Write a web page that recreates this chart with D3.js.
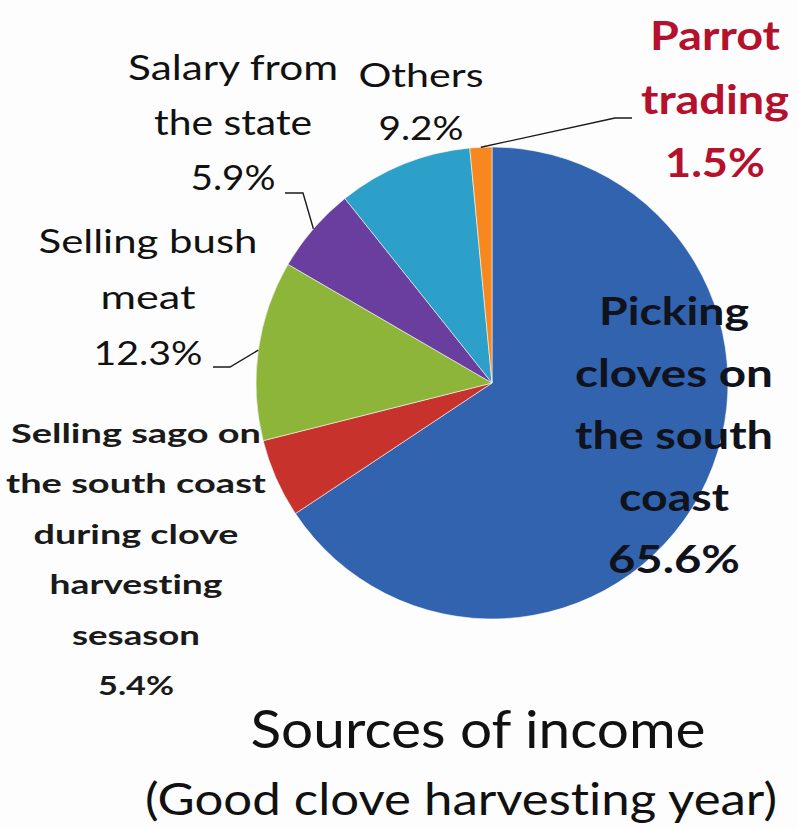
<!DOCTYPE html>
<html>
<head>
<meta charset="utf-8">
<script src="https://cdn.jsdelivr.net/npm/d3@7/dist/d3.min.js"></script>
<style>
  html, body { margin: 0; padding: 0; background: #fdfdfd; }
  svg { display: block; }
  text { font-family: Lato, "Open Sans", sans-serif; font-variant-ligatures: none; font-feature-settings: "liga" 0, "clig" 0; }
</style>
</head>
<body>
<svg id="chart" width="798" height="829"></svg>
<script>
// Income sources, in pie order (clockwise from 12 o'clock)
const categories = [
  "Picking cloves on the south coast",
  "Selling sago on the south coast during clove harvesting sesason",
  "Selling bush meat",
  "Salary from the state",
  "Others",
  "Parrot trading"
];
const shares = [65.6, 5.4, 12.3, 5.9, 9.2, 1.5];
const sliceColors = ["#3163ae", "#c8322d", "#8cb53a", "#6a3e9e", "#2ca0c8", "#f7871f"];

// Wrapped label text for each category (the percentage line is added from shares)
const labelLines = [
  ["Picking", "cloves on", "the south", "coast"],
  ["Selling sago on", "the south coast", "during clove", "harvesting", "sesason"],
  ["Selling bush", "meat"],
  ["Salary from", "the state"],
  ["Others"],
  ["Parrot", "trading"]
];

const titleText = "Sources of income";
const subtitleText = "(Good clove harvesting year)";

// Label placement: centre x, first baseline, line step, font size, weight, colour,
// per-line widths, and an optional elbow for the leader line
const labelLayout = [
  { x: 674, y: 325, step: 62, size: 39, weight: 700, color: "#10121c",
    widths: [150, 198, 198, 110, 132] },
  { x: 136, y: 443, step: 50.4, size: 27, weight: 700, color: "#1a1a1a",
    widths: [250, 260, 205, 173, 128, 76] },
  { x: 148, y: 253, step: 56, size: 33, weight: 400, color: "#111",
    widths: [219, 95, 109], leader: [[213, 367], [230, 367]] },
  { x: 233, y: 80, step: 55, size: 35, weight: 400, color: "#111",
    widths: [210, 158, 85], leader: [[285, 193], [303, 193]] },
  { x: 421, y: 87, step: 53, size: 32, weight: 400, color: "#111",
    widths: [125, 85] },
  { x: 715, y: 50, step: 63.5, size: 41, weight: 700, color: "#b5102c",
    widths: [130, 148, 100], leader: [[632, 118], [615, 118]] }
];

const svg = d3.select("#chart");
const cx = 492, cy = 383, radius = 236;

const pie = d3.pie().sort(null).value(d => d).startAngle(0).endAngle(2 * Math.PI);
const arcs = pie(shares);
const arc = d3.arc().innerRadius(0).outerRadius(radius);
const edge = d3.arc().innerRadius(radius).outerRadius(radius);

const g = svg.append("g").attr("transform", `translate(${cx},${cy})`);

g.selectAll("path.slice")
  .data(arcs)
  .join("path")
  .attr("class", "slice")
  .attr("d", arc)
  .attr("fill", (d, i) => sliceColors[i])
  .attr("stroke", "rgba(255,255,255,0.55)")
  .attr("stroke-width", 1);

// Leader lines from the slice's outer edge to the label elbow
const line = d3.line();
arcs.forEach((d, i) => {
  const L = labelLayout[i];
  if (!L.leader) return;
  const [ex, ey] = edge.centroid(d);
  const start = [cx + ex, cy + ey];
  const pts = [start, ...L.leader.slice().reverse()];
  svg.append("path")
    .attr("d", line(pts))
    .attr("fill", "none")
    .attr("stroke", "#1a1a1a")
    .attr("stroke-width", 1.4);
});

// Category labels
arcs.forEach((d, i) => {
  const L = labelLayout[i];
  const lines = labelLines[i].concat([shares[i].toFixed(1) + "%"]);
  const t = svg.append("text")
    .attr("text-anchor", "middle")
    .attr("fill", L.color)
    .attr("font-size", L.size)
    .attr("font-weight", L.weight);
  lines.forEach((s, k) => {
    t.append("tspan")
      .attr("x", L.x)
      .attr("y", L.y + k * L.step)
      .attr("textLength", L.widths[k])
      .attr("lengthAdjust", "spacingAndGlyphs")
      .text(s);
  });
});

// Title and subtitle
svg.append("text")
  .attr("x", 478).attr("y", 748)
  .attr("text-anchor", "middle")
  .attr("font-size", 52)
  .attr("fill", "#111")
  .attr("textLength", 455)
  .attr("lengthAdjust", "spacingAndGlyphs")
  .text(titleText);

svg.append("text")
  .attr("x", 461).attr("y", 815)
  .attr("text-anchor", "middle")
  .attr("font-size", 44)
  .attr("fill", "#111")
  .attr("textLength", 632)
  .attr("lengthAdjust", "spacingAndGlyphs")
  .text(subtitleText);
</script>
</body>
</html>
